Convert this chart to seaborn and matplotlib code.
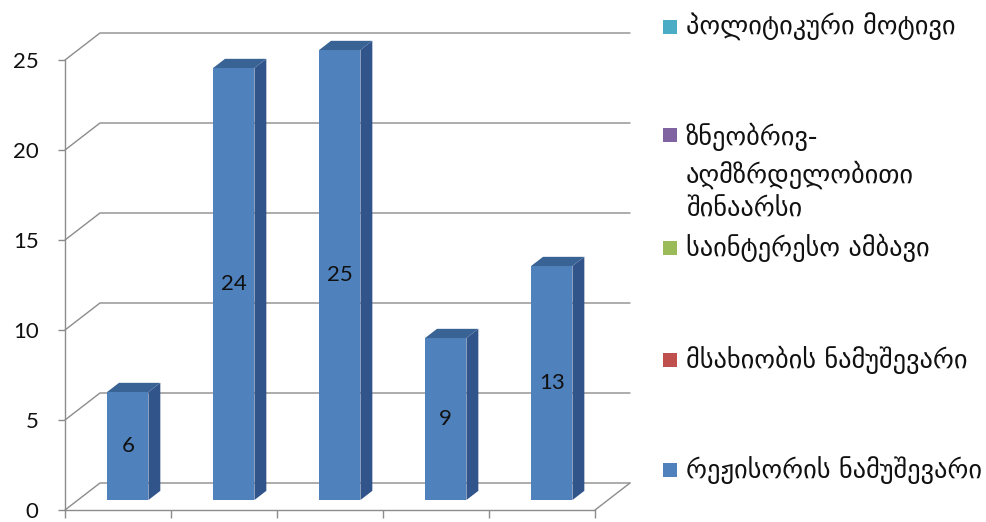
import numpy as np
import pandas as pd

import matplotlib
matplotlib.use('Agg')

import matplotlib.pyplot as plt
from matplotlib.patches import Polygon, Rectangle

import seaborn as sns

# data
values = [6, 24, 25, 9, 13]
positions = [0, 1, 2, 3, 4]
y_ticks = [0, 5, 10, 15, 20, 25]
legend_labels = ['პოლიტიკური მოტივი',
                 'ზნეობრივ-\nაღმზრდელობითი\nშინაარსი',
                 'საინტერესო ამბავი',
                 'მსახიობის ნამუშევარი',
                 'რეჟისორის ნამუშევარი']
legend_colors = ['#4BACC6', '#8064A2', '#9BBB59', '#C0504D', '#4F81BD']
legend_y = [27, 173, 248, 360, 470]   # pixel rows of the legend entries

W, H = 986, 522
sns.set_theme(style='white')
plt.rcParams['font.family'] = ['Lato', 'DejaVu Sans']

fig = plt.figure(figsize=(W / 100, H / 100), dpi=100)
ax = fig.add_axes([65 / W, (H - 510) / H, (630 - 65) / W, (510 - 33) / H])

DX, DY = 0.33, 1.5      # depth of the 3d box in data units
F0, F1 = 0.37, 0.71     # front / back of the bars inside the box
SHIFT_X = -0.03         # small extra sideways nudge of the bars
grid_col = '#8C8C8C'

df = pd.DataFrame({'pos': positions, 'value': values})
sns.barplot(data=df, x='pos', y='value', color='#4F81BD', saturation=1,
            width=0.39, ax=ax, zorder=3, edgecolor='none', linewidth=0)

ax.set_xlim(-0.5, 4.5 + DX)
ax.set_ylim(0, 25 + DY)

# back wall + left wall gridlines
for v in y_ticks:
    ax.plot([-0.5, -0.5 + DX, 4.5 + DX], [v, v + DY, v + DY],
            color=grid_col, lw=1, zorder=1, clip_on=False)
# floor right edge
ax.plot([4.5, 4.5 + DX], [0, DY], color=grid_col, lw=1, zorder=1, clip_on=False)

# shift bars into depth and add side/top faces
container = ax.containers[0]
for bar, v in zip(container.patches, values):
    x0 = bar.get_x() + F0 * DX + SHIFT_X
    bar.set_x(x0)
    bar.set_y(F0 * DY)
    w = bar.get_width()
    y0 = F0 * DY
    y1 = y0 + v
    ddx, ddy = (F1 - F0) * DX, (F1 - F0) * DY
    side = Polygon([(x0 + w, y0), (x0 + w + ddx, y0 + ddy),
                    (x0 + w + ddx, y1 + ddy), (x0 + w, y1)],
                   closed=True, facecolor='#31548A', edgecolor='none', zorder=3)
    top = Polygon([(x0, y1), (x0 + w, y1), (x0 + w + ddx, y1 + ddy),
                   (x0 + ddx, y1 + ddy)],
                  closed=True, facecolor='#3A6395', edgecolor='none', zorder=3)
    ax.add_patch(side)
    ax.add_patch(top)

ax.bar_label(container, labels=[str(v) for v in values], label_type='center',
             fontsize=16, color='#111111', zorder=4)

# axes styling
for s in ['top', 'right']:
    ax.spines[s].set_visible(False)
ax.spines['left'].set_bounds(0, 25)
ax.spines['bottom'].set_bounds(-0.5, 4.5)
for s in ['left', 'bottom']:
    ax.spines[s].set_color(grid_col)
    ax.spines[s].set_linewidth(1)
ax.set_yticks(y_ticks)
ax.set_yticklabels([str(t) for t in y_ticks])
ax.set_xticks([p - 0.5 for p in positions] + [4.5])
ax.set_xticklabels([])
ax.tick_params(axis='y', left=True, length=5, width=1, color=grid_col,
               direction='out', pad=14, labelsize=16, labelcolor='#111111')
ax.tick_params(axis='x', bottom=True, length=6, width=1, color=grid_col,
               direction='out')
ax.set_xlabel('')
ax.set_ylabel('')

# legend
for lab, c, y in zip(legend_labels, legend_colors, legend_y):
    first = y if '\n' not in lab else 135
    fig.add_artist(Rectangle((663 / W, 1 - (first + 7) / H), 14 / W, 14 / H,
                             transform=fig.transFigure, facecolor=c,
                             edgecolor='none'))
    fig.text(686 / W, 1 - y / H, lab, fontsize=19, color='#111111',
             ha='left', va='center', linespacing=1.42,
             family=['DejaVu Sans'])

fig.savefig('out.png', dpi=100)
plt.close()
